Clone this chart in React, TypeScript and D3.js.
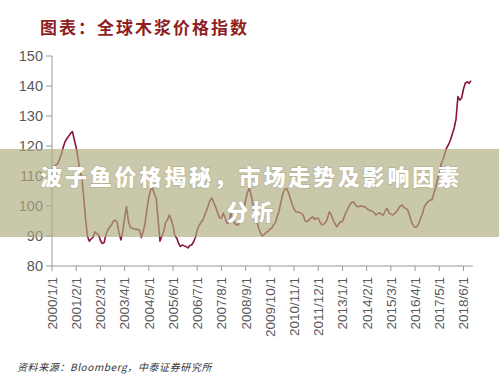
import * as d3 from 'd3';

// monthly global wood pulp price index, 2000/1 .. 2018/10
const PULP_INDEX: number[] = [
  112, 113, 113.7, 114, 115.5, 117.2, 119.5, 121.4, 122.5, 123.3, 124.2, 124.8,
  122, 119.5, 115.8, 111.4, 109.8, 103, 96, 90, 88.3, 89, 89.5, 91.4,
  90.8, 90.5, 88.5, 87.5, 87.8, 90.5, 92, 93, 93.7, 95, 95.3, 94.5,
  91, 88.7, 91.5, 96, 99.8, 95, 93, 92.6, 92.4, 92.3, 92.2, 92,
  89.5, 91.5, 94.3, 99, 103, 105.5, 106, 104, 102.5, 95.3, 88.3, 90,
  91.5, 94.5, 95.3, 97, 95.5, 93.5, 90, 89.3, 87.5, 86.5, 87, 86.7,
  86.5, 86, 86.8, 87, 88, 89.5, 92, 93.5, 94.5, 95.3, 97, 98.5,
  100.3, 102, 102.6, 101, 99.5, 97.6, 96, 95.9, 97.6, 96, 94.2, 94.5,
  97.5, 96, 94.3, 93.8, 93.7, 95, 96.4, 99, 102, 104.5, 106, 103.5,
  100, 97, 95, 92.6, 91, 90, 90.5, 91.2, 91.5, 92.3, 92.6, 93.7,
  94.5, 96.5, 98.5, 101.5, 104.2, 105.5, 105.9, 104.5, 102.5, 100.5, 99, 98.1,
  98, 97.8, 97.5, 96.8, 95, 94.8, 95.3, 96, 96.4, 95.5, 95.9, 95.9,
  94.5, 93.7, 94, 94.5, 96, 98.1, 97, 95.3, 94, 93.1, 94, 94.8,
  94.8, 96.5, 98, 99.2, 100.5, 101.2, 101.4, 100.3, 99.8, 99.8, 100, 99.8,
  99.8, 99.2, 98.7, 98.5, 98.2, 97.8, 97, 97.5, 97.7, 97.2, 97, 98.5,
  99.2, 97.7, 97.3, 97, 97.5, 98.1, 99, 100, 100.3, 99.5, 99.2, 98.7,
  97, 94.8, 93.5, 92.9, 93.1, 94.2, 96, 97.5, 99.8, 100.8, 101.4, 102,
  102, 104, 106, 109, 110.9, 114, 115.5, 117.5, 119.5, 120.5, 122, 124,
  126, 129, 136.5, 135.3, 136, 139, 141, 141.4, 140.9, 141.8,
];

const Y_TICKS = [80, 90, 100, 110, 120, 130, 140, 150];
const X_TICK_LABELS = [
  '2000/1/1', '2001/2/1', '2002/3/1', '2003/4/1', '2004/5/1', '2005/6/1',
  '2006/7/1', '2007/8/1', '2008/9/1', '2009/10/1', '2010/11/1', '2011/12/1',
  '2013/1/1', '2014/2/1', '2015/3/1', '2016/4/1', '2017/5/1', '2018/6/1',
];
const TICK_STEP = 13; // months between labelled ticks

const TITLE = '图表：全球木浆价格指数';
const SOURCE = '资料来源：Bloomberg，中泰证券研究所';
const OVERLAY_LINES = ['波子鱼价格揭秘，市场走势及影响因素', '分析'];

export default function App() {
  const W = 499;
  const H = 386;
  const x = d3.scaleLinear().domain([0, 226]).range([52, 472.8]);
  const y = d3.scaleLinear().domain([80, 150]).range([266, 56]);

  const line = d3.line<number>()
    .x((_, i) => x(i))
    .y((d) => y(d))
    .curve(d3.curveLinear);

  const axisColor = '#9a9a9a';
  const labelColor = '#5a5a5a';
  const sans = "'Liberation Sans', Arial, sans-serif";
  const cjk = "'Noto Sans CJK SC', sans-serif";

  return (
    <div style={{ position: 'absolute', left: 0, top: 0 }}>
      <svg width={W} height={H} style={{ display: 'block', background: '#fff' }}>
        <text x={40} y={34} fontSize={17} fontWeight={700} fill="#8e1f1f"
          fontFamily={cjk} letterSpacing={2}>{TITLE}</text>

        {/* y axis */}
        <line x1={52} x2={52} y1={y(150)} y2={y(80)} stroke={axisColor} strokeWidth={1} />
        {Y_TICKS.map((t) => (
          <g key={t}>
            <line x1={46} x2={52} y1={y(t)} y2={y(t)} stroke={axisColor} />
            <text x={43} y={y(t)} dy="0.36em" textAnchor="end" fontSize={14.5}
              fill={labelColor} fontFamily={sans}>{t}</text>
          </g>
        ))}

        {/* x axis */}
        <line x1={52} x2={x(226)} y1={266} y2={266} stroke={axisColor} strokeWidth={1} />
        {X_TICK_LABELS.map((lab, i) => {
          const tx = x(i * TICK_STEP);
          return (
            <g key={lab}>
              <line x1={tx} x2={tx} y1={266} y2={271} stroke={axisColor} />
              <text transform={`translate(${tx},277) rotate(-90)`} textAnchor="end" dy="0.36em"
                fontSize={13.5} fill={labelColor} fontFamily={sans}>{lab}</text>
            </g>
          );
        })}

        <path d={line(PULP_INDEX) ?? ''} fill="none" stroke="#8b1538" strokeWidth={1.6}
          strokeLinejoin="round" />

        <text x={17} y={371} fontSize={10} fontStyle="italic" fill="#333"
          fontFamily={cjk} letterSpacing={0.6}>{SOURCE}</text>

        {/* overlay band with headline */}
        <rect x={0} y={149} width={W} height={88} fill="rgb(175,171,128)" fillOpacity={0.66} />
        {OVERLAY_LINES.map((t, i) => (
          <text key={t} x={251} y={185 + i * 35} textAnchor="middle" fontSize={22}
            fontWeight={900} fill="#fff" fontFamily={cjk} letterSpacing={2.8}
            style={{ paintOrder: 'stroke' }} stroke="rgba(120,115,80,0.25)" strokeWidth={1.5}>{t}</text>
        ))}
      </svg>
    </div>
  );
}
